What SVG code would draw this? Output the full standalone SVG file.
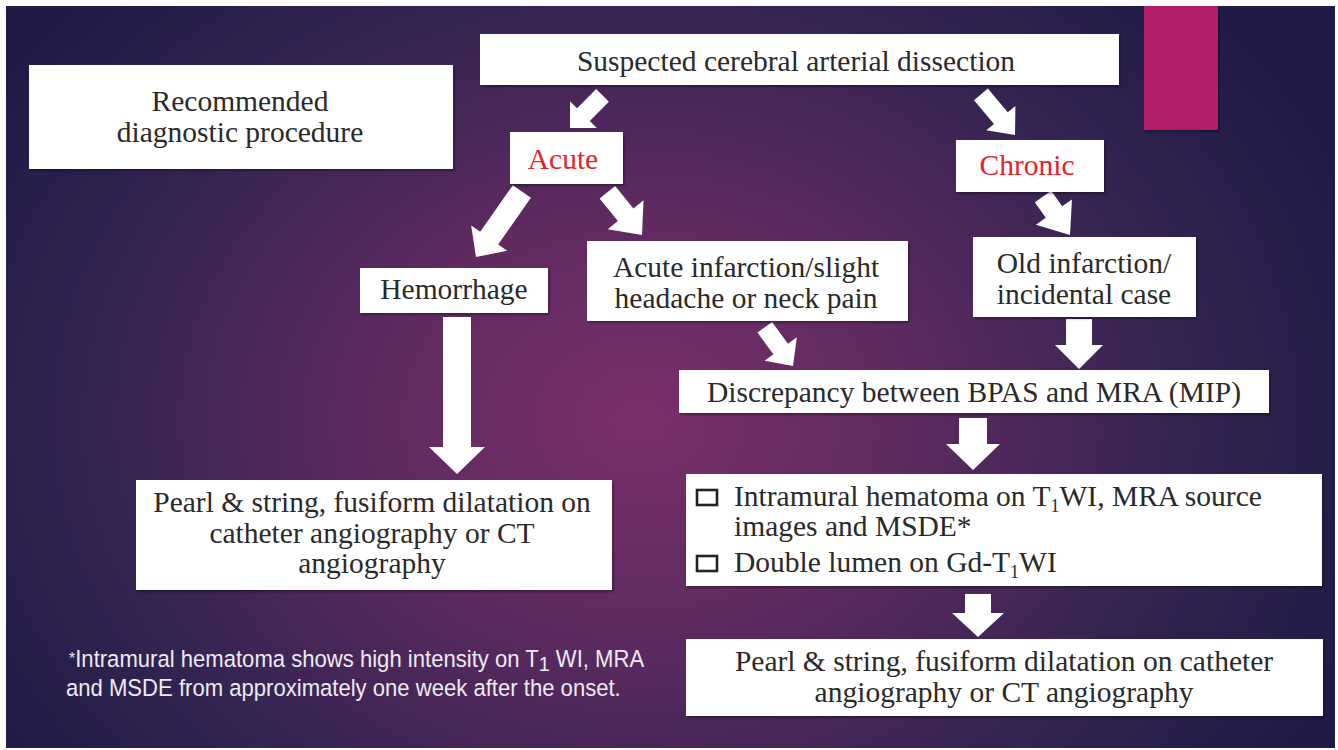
<svg xmlns="http://www.w3.org/2000/svg" width="1338" height="750" viewBox="0 0 1338 750">
<defs>
<radialGradient id="bg" gradientUnits="userSpaceOnUse" cx="640" cy="420" r="760" gradientTransform="translate(640 420) scale(1 0.8) translate(-640 -420)">
<stop offset="0" stop-color="#7a2f6b"/>
<stop offset="0.35" stop-color="#5e2a60"/>
<stop offset="0.7" stop-color="#352452"/>
<stop offset="1" stop-color="#201b46"/>
</radialGradient>
<filter id="sh" x="-5%" y="-10%" width="110%" height="125%">
<feDropShadow dx="1.5" dy="2" stdDeviation="1.2" flood-color="#000" flood-opacity="0.35"/>
</filter>
<style>
.box{fill:#ffffff;filter:url(#sh)}
.t{font-family:"Liberation Serif","Times New Roman",serif;font-size:29.5px;fill:#2a2a2a}
.c{text-anchor:middle}
.red{fill:#e8222b}
.arr{fill:#ffffff}
.fn{font-family:"Liberation Sans",Arial,sans-serif;font-size:23.5px;fill:#ecebf2}
.cb{fill:none;stroke:#222;stroke-width:2.6}
</style>
</defs>
<rect x="0" y="0" width="1338" height="750" fill="#ffffff"/>
<rect x="6" y="6" width="1329" height="742" fill="url(#bg)"/>
<rect id="accent" x="1144" y="6" width="74" height="124" fill="#b31f66" filter="url(#sh)"/>

<g id="connectors">
<path class="arr" transform="translate(570 128) rotate(135)" d="M0,0 L-19,-19 L-19,-9 L-46,-9 L-46,9 L-19,9 L-19,19 Z"/>
<path class="arr" transform="translate(1015 135) rotate(50)" d="M0,0 L-22,-19 L-22,-9 L-53,-9 L-53,9 L-22,9 L-22,19 Z"/>
<path class="arr" transform="translate(476 257) rotate(125)" d="M0,0 L-23,-22 L-23,-11 L-80,-11 L-80,11 L-23,11 L-23,22 Z"/>
<path class="arr" transform="translate(642 235) rotate(51)" d="M0,0 L-26,-23 L-26,-10 L-55,-10 L-55,10 L-26,10 L-26,23 Z"/>
<path class="arr" transform="translate(1070 235) rotate(55)" d="M0,0 L-28,-22 L-28,-10 L-47,-10 L-47,10 L-28,10 L-28,22 Z"/>
<path class="arr" transform="translate(793 366) rotate(54)" d="M0,0 L-21,-20 L-21,-9 L-48,-9 L-48,9 L-21,9 L-21,20 Z"/>
<path class="arr" transform="translate(1079 369) rotate(90)" d="M0,0 L-24,-24 L-24,-13 L-50,-13 L-50,13 L-24,13 L-24,24 Z"/>
<path class="arr" transform="translate(973 470) rotate(90)" d="M0,0 L-26,-27 L-26,-14 L-52,-14 L-52,14 L-26,14 L-26,27 Z"/>
<path class="arr" transform="translate(978 637) rotate(90)" d="M0,0 L-24,-26 L-24,-13 L-43,-13 L-43,13 L-24,13 L-24,26 Z"/>
<path class="arr" transform="translate(457 474) rotate(90)" d="M0,0 L-27,-28 L-27,-14 L-157,-14 L-157,14 L-27,14 L-27,28 Z"/>
</g>

<g id="n-title">
<rect class="box" x="29" y="65" width="424" height="104"/>
<text class="t c" x="240" y="111">Recommended</text>
<text class="t c" x="240" y="142">diagnostic procedure</text>
</g>

<g id="n-suspected">
<rect class="box" x="480" y="34" width="639" height="51"/>
<text class="t c" x="796" y="71">Suspected cerebral arterial dissection</text>
</g>

<g id="n-acute">
<rect class="box" x="510" y="132" width="113" height="52"/>
<text class="t c red" x="563" y="169">Acute</text>
</g>

<g id="n-chronic">
<rect class="box" x="956" y="140" width="148" height="52"/>
<text class="t c red" x="1027" y="175">Chronic</text>
</g>

<g id="n-hemorrhage">
<rect class="box" x="360" y="268" width="188" height="45"/>
<text class="t c" x="454" y="299">Hemorrhage</text>
</g>

<g id="n-acute-infarction">
<rect class="box" x="587" y="241" width="321" height="80"/>
<text class="t c" x="746" y="277">Acute infarction/slight</text>
<text class="t c" x="746" y="308">headache or neck pain</text>
</g>

<g id="n-old-infarction">
<rect class="box" x="973" y="237" width="223" height="80"/>
<text class="t c" x="1084" y="273">Old infarction/</text>
<text class="t c" x="1084" y="304">incidental case</text>
</g>

<g id="n-discrepancy">
<rect class="box" x="679" y="370" width="590" height="43"/>
<text class="t c" x="974" y="402">Discrepancy between BPAS and MRA (MIP)</text>
</g>

<g id="n-findings">
<rect class="box" x="686" y="474" width="636" height="112"/>
<rect class="cb" x="697" y="490" width="20" height="15"/>
<text class="t" x="734" y="506">Intramural hematoma on T<tspan font-size="18" dy="6">1</tspan><tspan dy="-6">WI, MRA source</tspan></text>
<text class="t" x="734" y="536">images and MSDE*</text>
<rect class="cb" x="697" y="556" width="20" height="15"/>
<text class="t" x="734" y="572">Double lumen on Gd-T<tspan font-size="18" dy="6">1</tspan><tspan dy="-6">WI</tspan></text>
</g>

<g id="n-angio-left">
<rect class="box" x="136" y="480" width="476" height="110"/>
<text class="t c" x="372" y="512">Pearl &amp; string, fusiform dilatation on</text>
<text class="t c" x="372" y="543">catheter angiography or CT</text>
<text class="t c" x="372" y="573">angiography</text>
</g>

<g id="n-angio-right">
<rect class="box" x="686" y="639" width="637" height="77"/>
<text class="t c" x="1004" y="671">Pearl &amp; string, fusiform dilatation on catheter</text>
<text class="t c" x="1004" y="702">angiography or CT angiography</text>
</g>

<g id="footnote">
<g transform="translate(69 667) scale(0.94 1)">
<text class="fn" x="0" y="0"><tspan font-size="17" dy="-3">*</tspan><tspan dy="3">Intramural hematoma shows high intensity on T</tspan><tspan font-size="21" dy="4">1</tspan><tspan dy="-4"> WI, MRA</tspan></text>
</g>
<g transform="translate(66 696) scale(0.94 1)">
<text class="fn" x="0" y="0">and MSDE from approximately one week after the onset.</text>
</g>
</g>
</svg>
